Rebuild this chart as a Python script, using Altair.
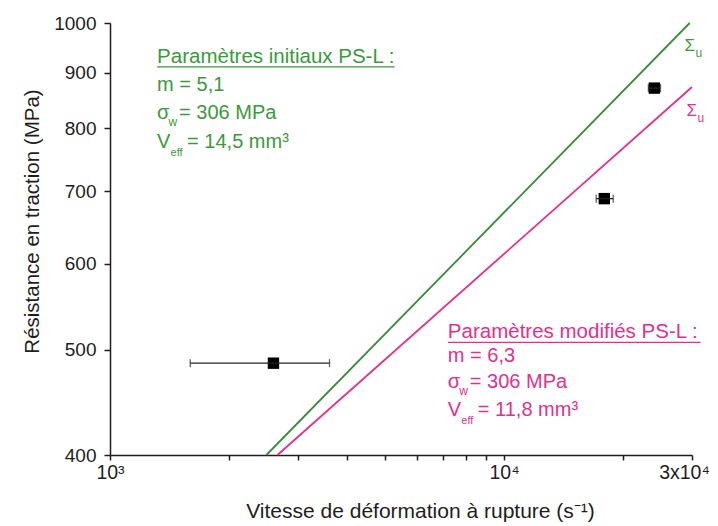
import altair as alt
import pandas as pd

# ---- measured data ----
rate = [2599, 17970, 24080]          # strain rate at rupture (s^-1)
rate_lo = [1598, 17140, 23250]
rate_hi = [3607, 18930, 24950]
strength = [486, 689, 871]           # tensile strength (MPa)

init_x = [2494, 29600]               # Sigma_u, initial PS-L parameters
init_y = [400, 1000]
mod_x = [2661, 30000]                # Sigma_u, modified PS-L parameters
mod_y = [400, 873]

x_ticks = [1000, 2000, 3000, 4000, 5000, 6000, 7000, 8000, 9000, 10000, 20000, 30000]
y_ticks = [400, 500, 600, 700, 800, 900, 1000]

# ---- annotation texts ----
headers = ["Paramètres initiaux PS-L :", "Paramètres modifiés PS-L :"]
m_text = ["m = 5,1", "m = 6,3"]
sigma_text = ["= 306 MPa", "= 306 MPa"]
v_text = ["= 14,5 mm³", "= 11,8 mm³"]

# annotation anchors (data units)
block_x = [1317, 7203]
header_y = [931, 519]
m_y = [876, 493]
sigma_y = [827, 467]
v_y = [777, 440]
underline_x2 = [5280, 31520]
underline_y = [911, 508]
slabel_x = [28700, 29040]
slabel_y = [953, 830]

GREEN_TXT = "#3b9a3b"
GREEN_LINE = "#3a8c3a"
PINK = "#e5308a"
colors = [GREEN_TXT, PINK]
FONT = "Liberation Sans"
TXT = "#1e1e1e"

xs = alt.Scale(type="log", domain=[1000, 30000], nice=False)
ys = alt.Scale(type="log", domain=[400, 1000], nice=False)

x_axis = alt.Axis(
    values=x_ticks,
    labelExpr="datum.value == 1000 ? '10³' : datum.value == 10000 ? '10⁴' : datum.value == 30000 ? '3x10⁴' : ''",
    labelOffset={"condition": {"test": "datum.value == 30000", "value": -8}, "value": 0},
    title="Vitesse de déformation à rupture (s⁻¹)",
    grid=False, tickSize=5, tickWidth=1.5, tickColor=TXT,
    domainColor=TXT, domainWidth=1.5,
    labelFont=FONT, labelFontSize=19.5, labelColor=TXT, labelPadding=3,
    labelOverlap=False, labelFlush=False,
    titleFont=FONT, titleFontSize=21, titleFontWeight="normal", titleColor=TXT,
    titlePadding=19, titleX=310,
)
y_axis = alt.Axis(
    values=y_ticks, format="d",
    title="Résistance en traction (MPa)",
    grid=False, tickSize=6, tickWidth=1.5, tickColor=TXT,
    domainColor=TXT, domainWidth=1.5,
    labelFont=FONT, labelFontSize=19, labelColor=TXT, labelPadding=8,
    labelOverlap=False,
    titleFont=FONT, titleFontSize=20.5, titleFontWeight="normal", titleColor=TXT,
    titlePadding=11, titleY=198,
)


def X(field):
    return alt.X(f"{field}:Q", scale=xs, axis=x_axis)


def Y(field):
    return alt.Y(f"{field}:Q", scale=ys, axis=y_axis)


pts_df = pd.DataFrame({"rate": rate, "lo": rate_lo, "hi": rate_hi, "s": strength})

points = alt.Chart(pts_df).mark_square(size=130, color="black", opacity=1).encode(
    x=X("rate"), y=Y("s"))
bars = alt.Chart(pts_df).mark_rule(color="#222222", strokeWidth=1.3).encode(
    x=X("lo"), x2="hi:Q", y=Y("s"))
cap_lo = alt.Chart(pts_df).mark_tick(orient="vertical", size=8, thickness=1.3, color="#222222").encode(
    x=X("lo"), y=Y("s"))
cap_hi = alt.Chart(pts_df).mark_tick(orient="vertical", size=8, thickness=1.3, color="#222222").encode(
    x=X("hi"), y=Y("s"))

line_init = alt.Chart(pd.DataFrame({"x": init_x, "y": init_y})).mark_line(
    color=GREEN_LINE, strokeWidth=1.8).encode(x=X("x"), y=Y("y"))
line_mod = alt.Chart(pd.DataFrame({"x": mod_x, "y": mod_y})).mark_line(
    color=PINK, strokeWidth=1.8).encode(x=X("x"), y=Y("y"))

ann = pd.DataFrame({
    "x": block_x, "hy": header_y, "my": m_y, "sy": sigma_y, "vy": v_y,
    "header": headers, "m": m_text, "sig": sigma_text, "v": v_text,
    "ux2": underline_x2, "uy": underline_y, "c": colors,
    "slx": slabel_x, "sly": slabel_y,
})


def txt(ycol, text=None, const=None, dx=0, dy=0, size=20, xcol="x"):
    enc = dict(x=X(xcol), y=Y(ycol), color=alt.Color("c:N", scale=None))
    if const is not None:
        return alt.Chart(ann).mark_text(align="left", baseline="middle", font=FONT,
                                        fontSize=size, dx=dx, dy=dy, text=const).encode(**enc)
    return alt.Chart(ann).mark_text(align="left", baseline="middle", font=FONT,
                                    fontSize=size, dx=dx, dy=dy).encode(text=f"{text}:N", **enc)


layers = [
    txt("hy", "header", size=20.5),
    txt("my", "m"),
    txt("sy", const="σ"),
    txt("sy", const="w", dx=11.5, dy=9, size=12),
    txt("sy", "sig", dx=22),
    txt("vy", const="V"),
    txt("vy", const="eff", dx=13.5, dy=11, size=11),
    txt("vy", "v", dx=30),
    txt("sly", const="Σ", xcol="slx", size=17),
    txt("sly", const="u", xcol="slx", dx=11, dy=7, size=12),
]

underline = alt.Chart(ann).mark_rule(strokeWidth=1.2).encode(
    x=X("x"), x2="ux2:Q", y=Y("uy"), color=alt.Color("c:N", scale=None))

chart = alt.layer(points, line_init, line_mod, bars, cap_lo, cap_hi, underline, *layers).properties(
    width=582, height=432,
    autosize=alt.AutoSizeParams(type="none"),
    padding={"left": 102, "top": 15, "right": 18, "bottom": 70},
).configure(font=FONT).configure_view(strokeWidth=0)

chart.save("out.html", embed_options={"renderer": "svg", "actions": False})
